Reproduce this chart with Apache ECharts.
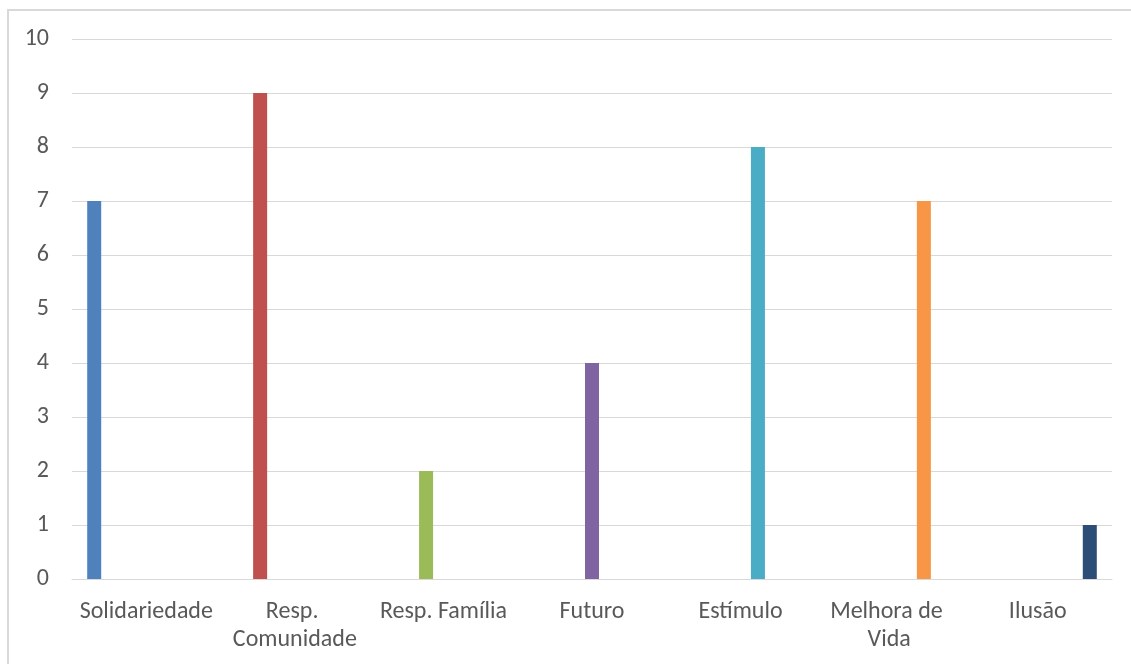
<!DOCTYPE html>
<html>
<head>
<meta charset="utf-8">
<script src="https://cdn.jsdelivr.net/npm/echarts@6/dist/echarts.min.js"></script>
<style>
  html, body { margin: 0; padding: 0; background: #fff; overflow: hidden; }
  #frame { position: absolute; left: 7px; top: 9px; width: 1200px; height: 700px; border: 2px solid #d9d9d9; }
  #chart { position: absolute; left: 0; top: 0; width: 1131px; height: 664px; }
</style>
</head>
<body>
<div id="frame"></div>
<div id="chart"></div>
<script>
const categories = ['Solidariedade', 'Resp. Comunidade', 'Resp. Família', 'Futuro', 'Estímulo', 'Melhora de Vida', 'Ilusão']
const values = [7, 9, 2, 4, 8, 7, 1]
const colors = ['#4f81bd', '#c0504d', '#9bbb59', '#8064a2', '#4bacc6', '#f79646', '#2c4d75']
const yTicks = { min: 0, max: 10, interval: 1 }

const font = 'Carlito, Lato, "Open Sans", sans-serif'
const textColor = '#595959'

// one series per category, like the spreadsheet: each only holds its own value
const series = categories.map((name, i) => ({
  name,
  type: 'bar',
  barWidth: 14,
  barGap: '24%',
  data: categories.map((_, j) => (j === i ? values[i] : null)),
  itemStyle: { color: colors[i] },
}))

const chart = echarts.init(document.getElementById('chart'), null, { renderer: 'canvas' })
chart.setOption({
  animation: false,
  grid: { left: 72, right: 19, top: 39, bottom: 85 },
  xAxis: {
    type: 'category',
    data: categories,
    axisLine: { lineStyle: { color: '#d9d9d9', width: 1 } },
    axisTick: { show: false },
    axisLabel: {
      color: textColor, fontFamily: font, fontSize: 24, margin: 19,
      interval: 0, width: 148, overflow: 'break', lineHeight: 28,
    },
  },
  yAxis: {
    type: 'value',
    ...yTicks,
    axisLine: { show: false },
    axisTick: { show: false },
    splitLine: { lineStyle: { color: '#d9d9d9', width: 1 } },
    axisLabel: { color: textColor, fontFamily: font, fontSize: 24, margin: 23 },
  },
  series,
})
</script>
</body>
</html>
